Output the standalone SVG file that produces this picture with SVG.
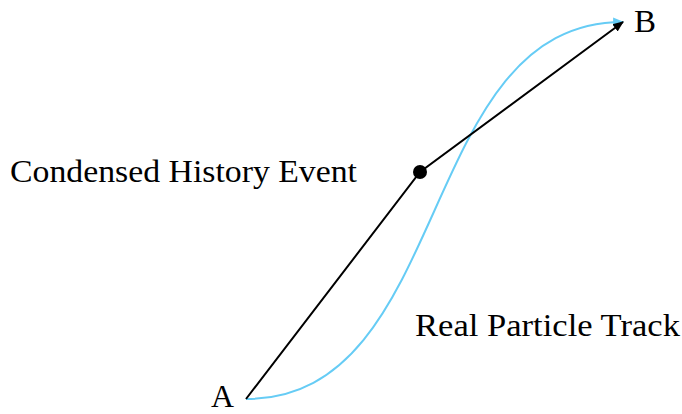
<svg xmlns="http://www.w3.org/2000/svg" width="682" height="414" viewBox="0 0 682 414">
<defs>
<marker id="ab" viewBox="0 0 10 10" refX="9" refY="5" markerWidth="5.5" markerHeight="5.5" markerUnits="strokeWidth" orient="auto"><path d="M0,1 L10,5 L0,9 Z" fill="#000"/></marker>
<marker id="ac" viewBox="0 0 10 10" refX="9" refY="5" markerWidth="5.5" markerHeight="5.5" markerUnits="strokeWidth" orient="auto"><path d="M0,1 L10,5 L0,9 Z" fill="#66CCF5"/></marker>
</defs>
<g id="connectors" fill="none" stroke-width="2">
<path stroke="#66CCF5" d="M246,399 C454,399 415,22 623,22" marker-end="url(#ac)"/>
<path stroke="#000" d="M246,399 L420,172 L623,22" marker-end="url(#ab)"/>
</g>
<g font-family="Liberation Serif, Times New Roman, serif" font-size="32" fill="#000">
<g id="A"><text x="211" y="407" font-size="31" textLength="23" lengthAdjust="spacingAndGlyphs">A</text></g>
<g id="B"><text x="634" y="32" textLength="22" lengthAdjust="spacingAndGlyphs">B</text></g>
<g id="event"><circle cx="420" cy="172" r="7" fill="#000"/><text x="10" y="182" textLength="347" lengthAdjust="spacingAndGlyphs">Condensed History Event</text></g>
<g id="track"><text x="415" y="336" textLength="265" lengthAdjust="spacingAndGlyphs">Real Particle Track</text></g>
</g>
</svg>
